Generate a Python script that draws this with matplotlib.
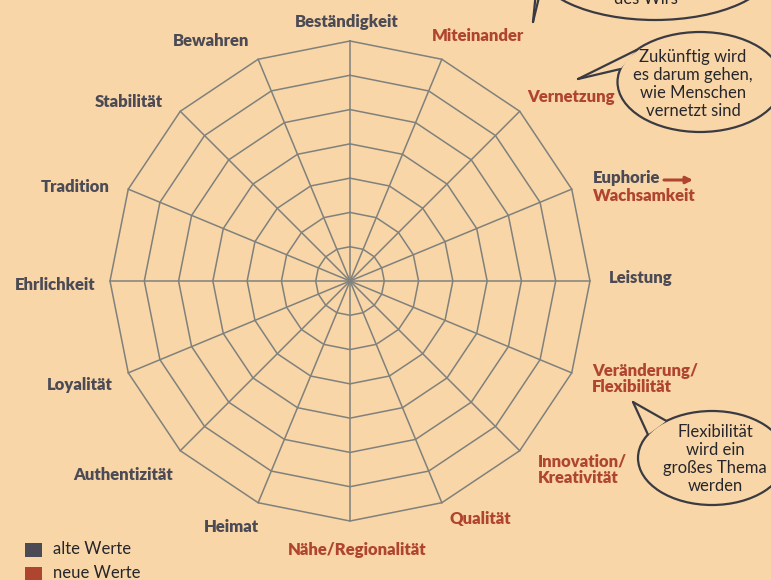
import numpy as np
import matplotlib
matplotlib.use("Agg")
import matplotlib.pyplot as plt
from matplotlib.patches import Ellipse, Polygon, Rectangle

# ---------------- data ----------------
categories = ["Beständigkeit", "Miteinander", "Vernetzung", "Euphorie\nWachsamkeit",
              "Leistung", "Veränderung/\nFlexibilität", "Innovation/\nKreativität",
              "Qualität", "Nähe/Regionalität", "Heimat", "Authentizität",
              "Loyalität", "Ehrlichkeit", "Tradition", "Stabilität", "Bewahren"]
groups = ["alt", "neu", "neu", "wandel", "alt", "neu", "neu", "neu", "neu",
          "alt", "alt", "alt", "alt", "alt", "alt", "alt"]
levels = [1, 2, 3, 4, 5, 6, 7]
legend_labels = ["alte Werte", "neue Werte"]
bubble_texts = ["des Wirs",
                "Zukünftig wird\nes darum gehen,\nwie Menschen\nvernetzt sind",
                "Flexibilität\nwird ein\ngroßes Thema\nwerden"]

# ---------------- style / layout ----------------
W, H = 771, 580
BG = "#f8d6a7"
GREY = "#4c4b55"
RED = "#b0452f"
GRID = "#80817d"
EDGE = "#3a3a42"
LABEL_FONT = ["Lato", "DejaVu Sans"]
TEXT_FONT = ["Lato", "DejaVu Sans"]

cx, cy = 350, 281          # pixel centre of the web
s = 240 / max(levels)      # pixels per level

fig = plt.figure(figsize=(W / 100, H / 100), dpi=100)
fig.patch.set_facecolor(BG)
ax = fig.add_axes([0, 0, 1, 1])
ax.set_facecolor(BG)
ax.set_xlim(-cx / s, (W - cx) / s)
ax.set_ylim(-(H - cy) / s, cy / s)
ax.set_aspect("equal")
ax.axis("off")


def px(x, y):
    """pixel position (origin top-left) -> data coordinates"""
    return (x - cx) / s, (cy - y) / s


n = len(categories)
angles = np.pi / 2 - np.arange(n) * 2 * np.pi / n

# rings
for lv in levels:
    xs = lv * np.cos(angles)
    ys = lv * np.sin(angles)
    ax.plot(np.append(xs, xs[0]), np.append(ys, ys[0]), color=GRID, lw=1.1, zorder=2)
# spokes
rmax = max(levels)
for a in angles:
    ax.plot([0, rmax * np.cos(a)], [0, rmax * np.sin(a)], color=GRID, lw=1.1, zorder=2)

# ---------------- labels ----------------
label_pos = {
    "Beständigkeit": (347, 22, "center"),
    "Miteinander": (478, 36, "center"),
    "Vernetzung": (571, 97, "center"),
    "Euphorie\nWachsamkeit": (593, 187, "left"),
    "Leistung": (641, 278, "center"),
    "Veränderung/\nFlexibilität": (592, 379, "left"),
    "Innovation/\nKreativität": (538, 470, "left"),
    "Qualität": (480, 519, "center"),
    "Nähe/Regionalität": (357, 550, "center"),
    "Heimat": (231, 527, "center"),
    "Authentizität": (123, 475, "center"),
    "Loyalität": (80, 385, "center"),
    "Ehrlichkeit": (55, 285, "center"),
    "Tradition": (75, 187, "center"),
    "Stabilität": (129, 102, "center"),
    "Bewahren": (211, 41, "center"),
}
FS = 12
FW = "heavy"
for cat, grp in zip(categories, groups):
    x, y, ha = label_pos[cat]
    if grp == "wandel":
        top, bottom = cat.split("\n")
        ax.text(*px(x, y - 9), top, color=GREY, fontsize=FS, fontweight=FW,
                family=LABEL_FONT, ha="left", va="center", zorder=5)
        ax.text(*px(x, y + 9), bottom, color=RED, fontsize=FS, fontweight=FW,
                family=LABEL_FONT, ha="left", va="center", zorder=5)
        ax.annotate("", xy=px(693, y - 7), xytext=px(664, y - 7),
                    arrowprops=dict(arrowstyle="-|>", color=RED, lw=2.2,
                                    mutation_scale=10, shrinkA=0, shrinkB=0), zorder=5)
    else:
        ax.text(*px(x, y), cat, color=RED if grp == "neu" else GREY, fontsize=FS,
                fontweight=FW, family=LABEL_FONT, ha=ha, va="center",
                linespacing=1.0, multialignment="left", zorder=5)

# ---------------- speech bubbles ----------------
bubbles = [
    # centre, width, height, tail tip, tail base angles (deg), text centre
    dict(c=(655, -35), w=240, h=110, tip=(533, 22), base=(163, 200), tc=(646, -1)),
    dict(c=(700, 82), w=165, h=100, tip=(578, 79), base=(140, 165), tc=(693, 84)),
    dict(c=(712, 458), w=148, h=94, tip=(633, 402), base=(128, 150), tc=(715, 459)),
]
for b, txt in zip(bubbles, bubble_texts):
    ccx, ccy = b["c"]
    e = Ellipse(px(ccx, ccy), b["w"] / s, b["h"] / s, facecolor=BG, edgecolor=EDGE,
                lw=1.6, zorder=6)
    ax.add_patch(e)
    pts = []
    for ang in b["base"]:
        t = np.radians(ang)
        pts.append((ccx + b["w"] / 2 * np.cos(t), ccy - b["h"] / 2 * np.sin(t)))
    tri = Polygon([px(*b["tip"]), px(*pts[0]), px(*pts[1])], closed=True,
                  facecolor=BG, edgecolor="none", zorder=7)
    ax.add_patch(tri)
    for p in pts:
        a0, a1 = px(*b["tip"]), px(*p)
        ax.plot([a0[0], a1[0]], [a0[1], a1[1]], color=EDGE, lw=1.6, zorder=8,
                solid_capstyle="round")
    ax.text(*px(*b["tc"]), txt, ha="center", va="center", fontsize=12,
            family=TEXT_FONT, color="#26262c", linespacing=1.14, zorder=9)

# ---------------- legend ----------------
for i, (lab, col) in enumerate(zip(legend_labels, [GREY, RED])):
    y0 = 543 + i * 24
    x0d, y0d = px(25, y0 + 14)
    ax.add_patch(Rectangle((x0d, y0d), 17 / s, 14 / s, facecolor=col,
                           edgecolor="none", zorder=5))
    ax.text(*px(53, y0 + 6), lab, fontsize=12, family=TEXT_FONT, color="#26262c",
            ha="left", va="center", zorder=5)

fig.savefig("out.png", dpi=100, facecolor=BG)
